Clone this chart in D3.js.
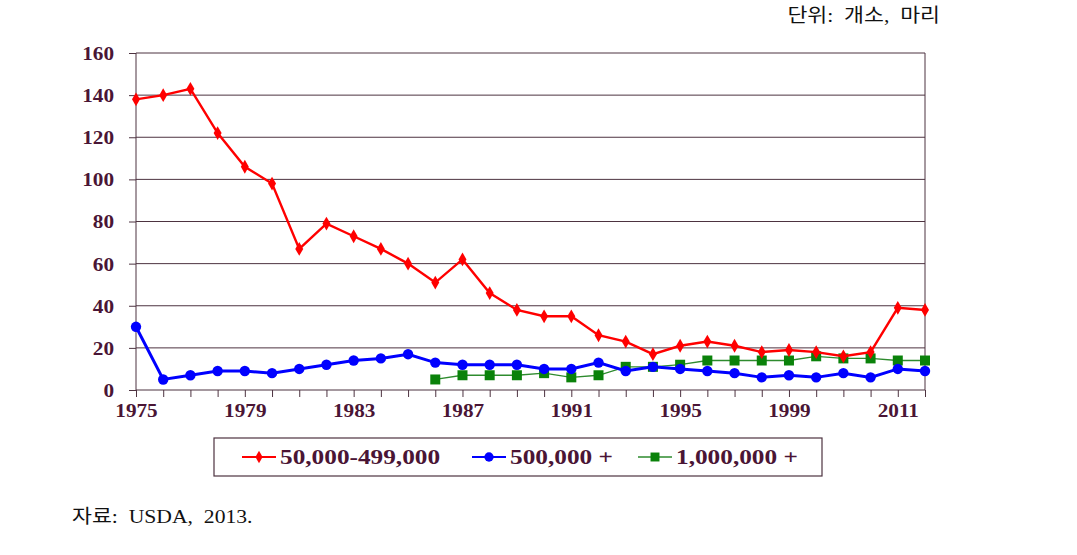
<!DOCTYPE html>
<html lang="ko">
<head>
<meta charset="UTF-8">
<title>Hog operations by size</title>
<script src="https://d3js.org/d3.v7.min.js"></script>
<style>
    body { margin: 0; background: #fff; }
    svg { display: block; }
    .axis text { font-family: "Liberation Serif", "Times New Roman", serif; font-weight: bold; font-size: 18px; fill: #4a1535; }
    .axis path, .axis line { stroke: #4d3340; }
    .note { font-family: "Liberation Serif", "Noto Sans CJK KR", serif; font-size: 19px; fill: #111; white-space: pre; }
</style>
</head>
<body>
<svg width="1077" height="555"></svg>
<script>
    // years on the category axis (only every 4th one is labelled)
    const years = ["1975","1976","1977","1978","1979","1980","1981","1982","1983","1984",
                   "1985","1986","1987","1988","1989","1990","1991","1992","1993","1994",
                   "1995","1996","1997","1998","1999","2000","2005","2010","2011","2012"];
    const small = [138,140,143,122,106,98,67,79,73,67,60,51,62,46,38,35,35,26,23,17,
                   21,23,21,18,19,18,16,18,39,38];
    const large = [30,5,7,9,9,8,10,12,14,15,17,13,12,12,12,10,10,13,9,11,
                   10,9,8,6,7,6,8,6,10,9];
    // 1,000,000+ starts in 1986
    const huge = [null,null,null,null,null,null,null,null,null,null,null,5,7,7,7,8,6,7,11,11,
                  12,14,14,14,14,16,15,15,14,14];
    const yTicks = [0,20,40,60,80,100,120,140,160];
    const seriesNames = ["50,000-499,000", "500,000 +", "1,000,000 +"];

    const svg = d3.select("svg");
    const plotL = 136, plotR = 925, plotT = 53, plotB = 390;
    const stretch = 1.18; // the original glyphs are wider than they are tall

    const x = d3.scalePoint().domain(years).range([plotL, plotR]);
    const y = d3.scaleLinear().domain([0, 160]).range([plotB, plotT]);

    // horizontal grid lines
    svg.append("g")
        .selectAll("line")
        .data(yTicks.slice(1))
        .join("line")
        .attr("x1", plotL).attr("x2", plotR)
        .attr("y1", d => y(d)).attr("y2", d => y(d))
        .attr("stroke", "#4d3340").attr("stroke-width", 1);

    // right frame line
    svg.append("line")
        .attr("x1", plotR).attr("x2", plotR)
        .attr("y1", plotT).attr("y2", plotB)
        .attr("stroke", "#4d3340");

    const yAxis = svg.append("g")
        .attr("class", "axis")
        .attr("transform", `translate(${plotL},0)`)
        .call(d3.axisLeft(y).tickValues(yTicks).tickSize(7));
    yAxis.select(".domain").attr("d", `M0,${plotT}V${plotB}`);
    yAxis.selectAll("text")
        .attr("x", -22 / stretch)
        .attr("dy", "0.36em")
        .attr("transform", `scale(${stretch},1)`);

    const xAxis = svg.append("g")
        .attr("class", "axis")
        .attr("transform", `translate(0,${plotB})`)
        .call(d3.axisBottom(x).tickSize(7).tickSizeOuter(0)
            .tickFormat((d, i) => i % 4 === 0 ? d : ""));
    xAxis.select(".domain").attr("d", `M${plotL},0H${plotR}`);
    xAxis.selectAll(".tick text")
        .attr("y", 14)
        .attr("x", 0)
        .attr("transform", `scale(${stretch},1)`);

    const line = d3.line()
        .defined(d => d.v != null)
        .x(d => x(d.year))
        .y(d => y(d.v));

    const toPts = arr => years.map((yr, i) => ({ year: yr, v: arr[i] }));

    const styles = [
        { data: small, color: "#ff0000", width: 2.4, shape: d3.symbolDiamond, size: 55 },
        { data: large, color: "#0000ff", width: 3, shape: d3.symbolCircle, size: 85 },
        { data: huge, color: "#0a820a", width: 1.3, shape: d3.symbolSquare, size: 100, lineColor: "#2e8b2e" }
    ];

    // draw green first so red/blue sit on top like the original
    [2, 1, 0].forEach(k => {
        const s = styles[k];
        const pts = toPts(s.data);
        svg.append("path")
            .datum(pts)
            .attr("fill", "none")
            .attr("stroke", s.lineColor || s.color)
            .attr("stroke-width", s.width)
            .attr("d", line);
        svg.append("g")
            .selectAll("path")
            .data(pts.filter(d => d.v != null))
            .join("path")
            .attr("transform", d => `translate(${x(d.year)},${y(d.v)})`)
            .attr("d", d3.symbol().type(s.shape).size(s.size))
            .attr("fill", s.color);
    });

    // legend
    const legend = svg.append("g");
    legend.append("rect")
        .attr("x", 214).attr("y", 438).attr("width", 608).attr("height", 38)
        .attr("fill", "#fff").attr("stroke", "#4d3340").attr("stroke-width", 1.2);
    const legendX = [242, 472, 638];
    seriesNames.forEach((name, i) => {
        const s = styles[i];
        const lx = legendX[i];
        legend.append("line")
            .attr("x1", lx).attr("x2", lx + 34)
            .attr("y1", 457).attr("y2", 457)
            .attr("stroke", s.lineColor || s.color).attr("stroke-width", Math.min(s.width, 2));
        legend.append("path")
            .attr("transform", `translate(${lx + 17},457)`)
            .attr("d", d3.symbol().type(s.shape).size(s.size * 0.8))
            .attr("fill", s.color);
        legend.append("text")
            .attr("transform", `translate(${lx + 38},464) scale(1.15,1)`)
            .attr("font-family", "'Liberation Serif', 'Times New Roman', serif")
            .attr("font-weight", "bold")
            .attr("font-size", 22)
            .attr("fill", "#4a1535")
            .text(name);
    });

    // unit and source notes (slightly widened like the original)
    svg.append("text")
        .attr("class", "note")
        .attr("transform", "translate(940,22) scale(1.14,1)")
        .attr("text-anchor", "end")
        .text("단위:  개소,  마리");
    svg.append("text")
        .attr("class", "note")
        .attr("transform", "translate(72,523) scale(1.14,1)")
        .text("자료:  USDA,  2013.");
</script>
</body>
</html>
